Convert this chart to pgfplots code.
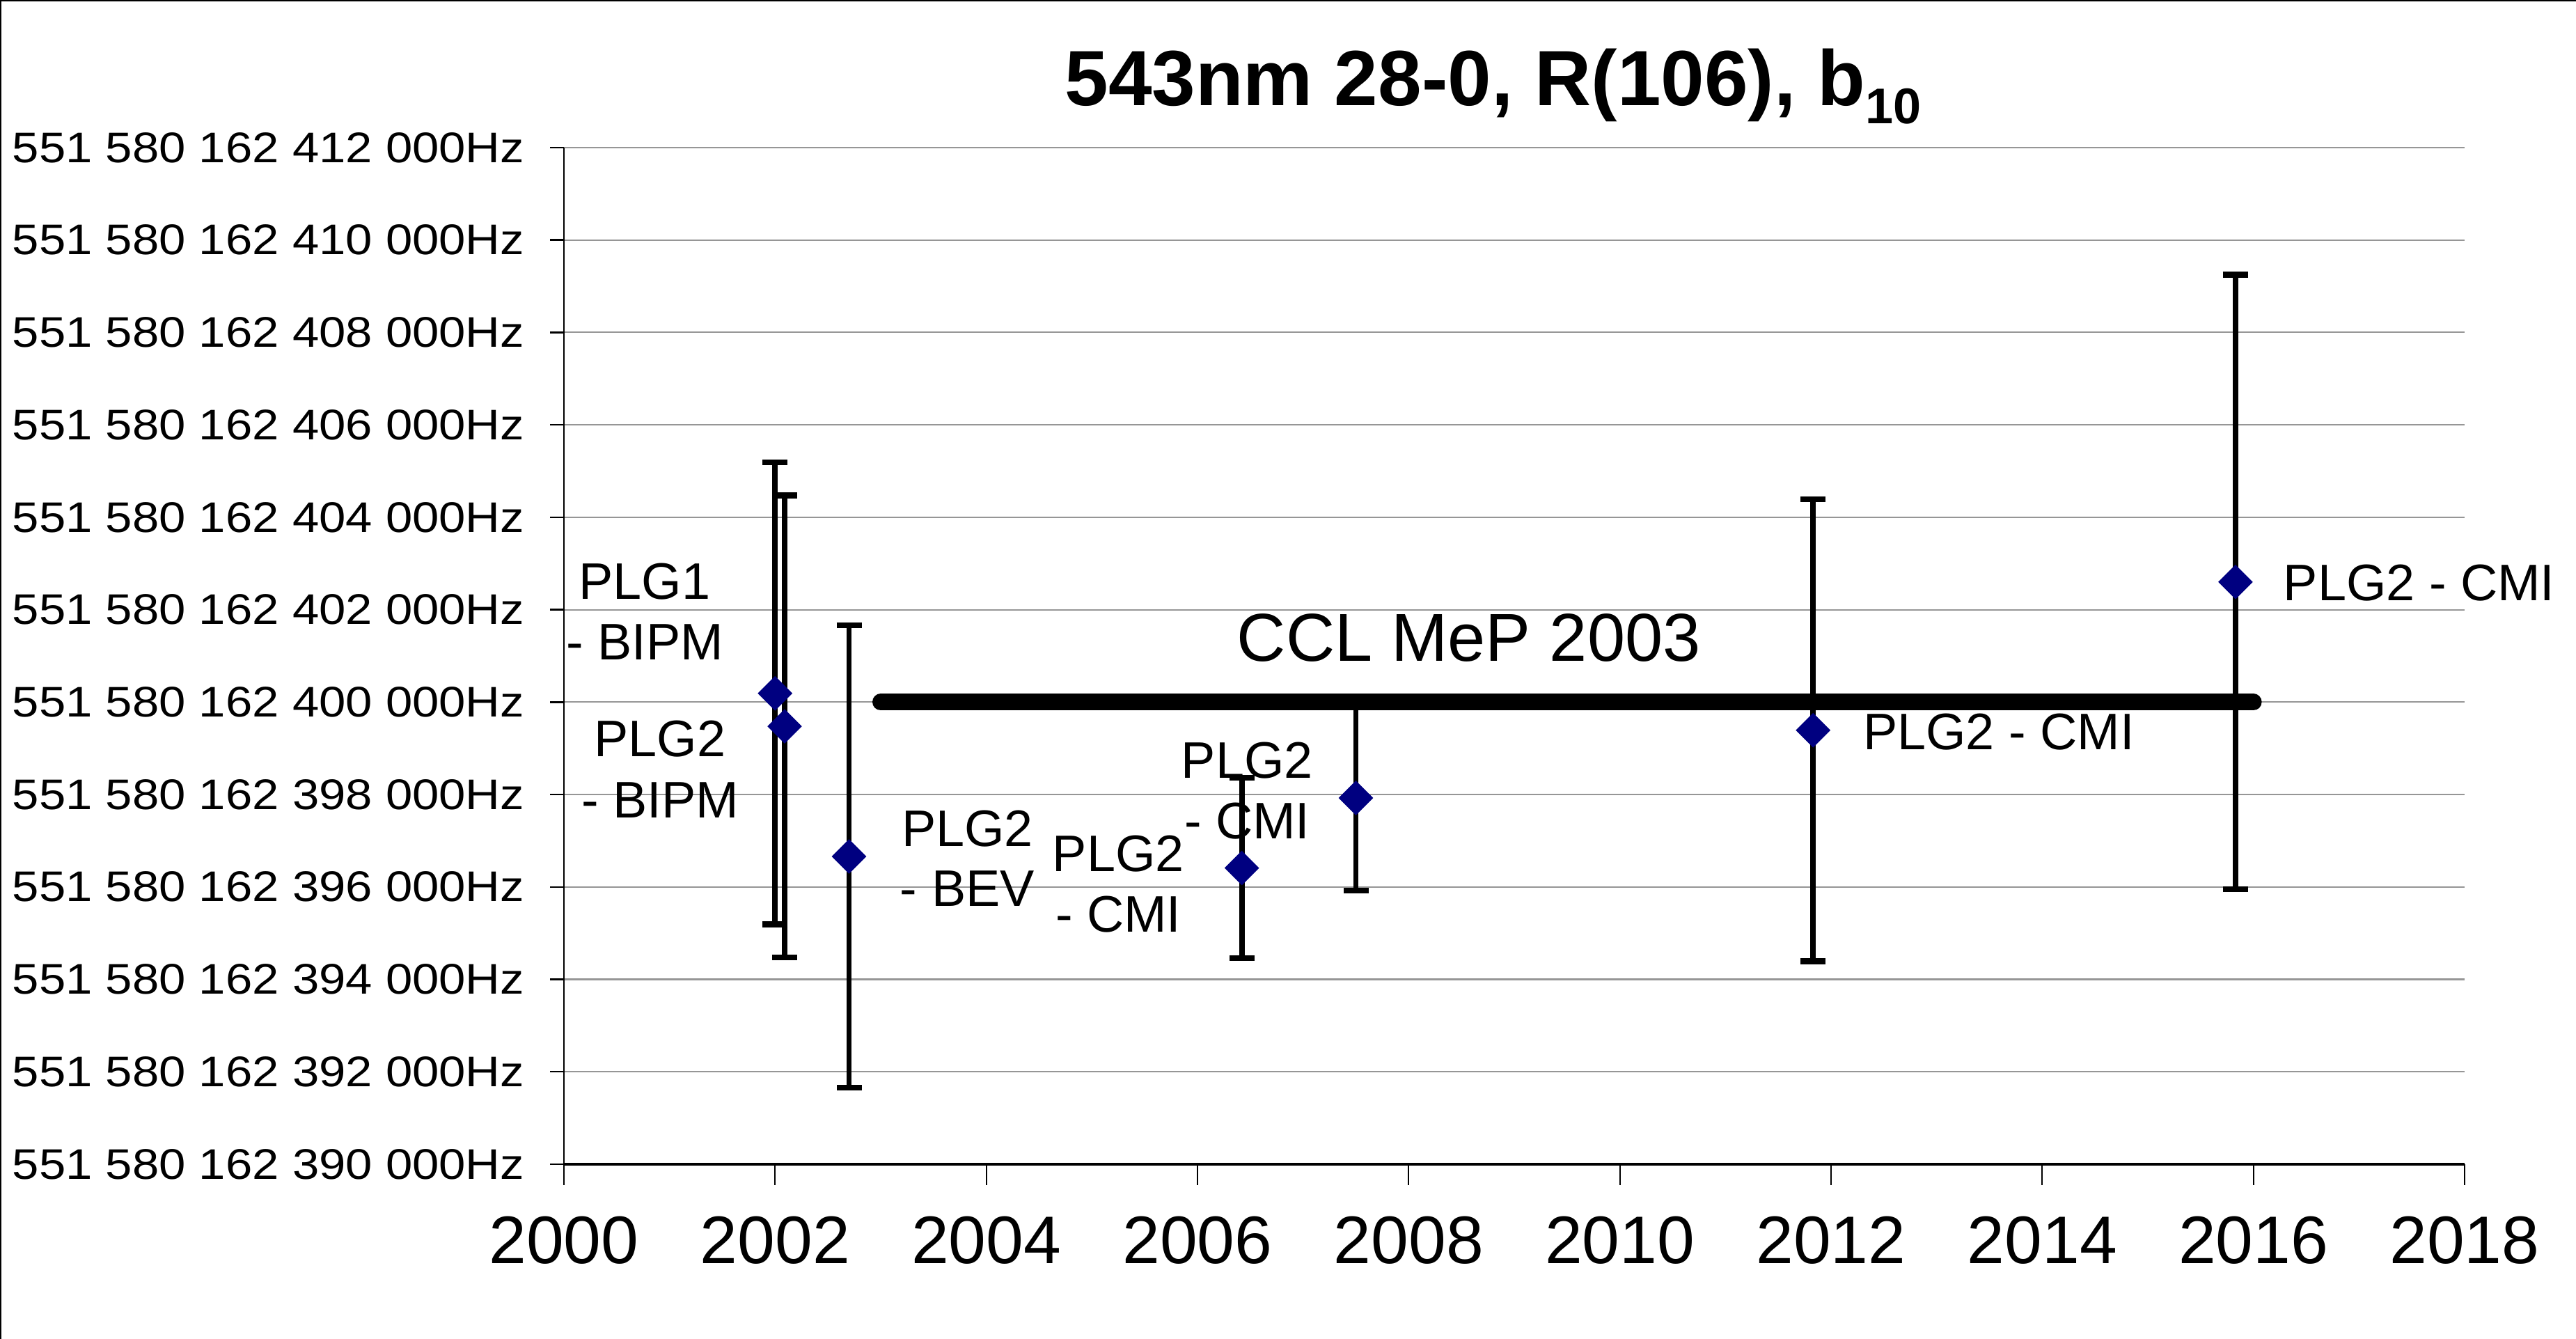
\documentclass[border=0pt]{standalone}
\usepackage{fontspec}
\setmainfont{Liberation Sans}
\newfontfamily\ylabfont[FakeStretch=1.12]{Liberation Sans}
\usepackage{pgfplots}
\pgfplotsset{compat=1.18}
\definecolor{navy}{RGB}{0,0,128}
\definecolor{gridgray}{RGB}{150,150,150}
\newcommand{\lblfont}{\fontsize{21}{24}\selectfont}
\begin{document}
\begin{tikzpicture}
\useasboundingbox (0,0) rectangle (37cm,19.23cm);
\draw[line width=0.04cm] (0,0) -- (0,19.23cm) -- (37cm,19.23cm);
\begin{axis}[
  at={(8.10cm,2.51cm)}, anchor=south west,
  scale only axis, width=27.30cm, height=14.60cm,
  xmin=2000, xmax=2018, ymin=390000, ymax=412000,
  axis x line*=bottom, axis y line*=left,
  xtick pos=bottom, ytick pos=left,
  x axis line style={line width=0.9pt, black, -},
  y axis line style={line width=0.5pt, black, -},
  scaled y ticks=false, scaled x ticks=false,
  xtick={2000,2002,2004,2006,2008,2010,2012,2014,2016,2018},
  xticklabels={2000,2002,2004,2006,2008,2010,2012,2014,2016,2018},
  ytick={390000,392000,394000,396000,398000,400000,402000,404000,406000,408000,410000,412000},
  yticklabels={551 580 162 390 000Hz,551 580 162 392 000Hz,551 580 162 394 000Hz,551 580 162 396 000Hz,551 580 162 398 000Hz,551 580 162 400 000Hz,551 580 162 402 000Hz,551 580 162 404 000Hz,551 580 162 406 000Hz,551 580 162 408 000Hz,551 580 162 410 000Hz,551 580 162 412 000Hz},
  tick align=outside,
  xtick style={line width=0.5pt, black, /pgfplots/major tick length=0.30cm},
  ytick style={line width=0.7pt, black, /pgfplots/major tick length=0.20cm},
  ymajorgrids, grid style={gridgray, line width=0.6pt},
  xticklabel style={font=\fontsize{27.5}{30}\selectfont, anchor=base, inner sep=0pt, yshift=-1.28cm},
  yticklabel style={font=\ylabfont\fontsize{17.5}{20}\selectfont, anchor=east, inner sep=0pt, xshift=-0.41cm},
  clip=false,
]
% CCL MeP 2003 value
\addplot[black, line width=6.8pt, line cap=round] coordinates {(2003,400000) (2016,400000)};
% measurements
\addplot[only marks, mark=square*, mark size=4.8pt,
  mark options={rotate=45, fill=navy, draw=navy},
  error bars/.cd, y dir=both, y explicit,
  error bar style={line width=2.2pt, black},
  error mark options={rotate=90, line width=2.4pt, black, mark size=0.18cm}]
  table[x=x, y=y, y error=e] {
  x        y       e
  2002.00  400190  5000
  2002.09  399476  5000
  2002.70  396660  5000
  2006.42  396410  1950
  2007.50  397925  2000
  2011.83  399390  5000
  2015.83  402600  6650
};
% point labels
\node[anchor=base, font=\lblfont] at (axis cs:2000.765,402222) {PLG1};
\node[anchor=base, font=\lblfont] at (axis cs:2000.765,400911) {- BIPM};
\node[anchor=base, font=\lblfont] at (axis cs:2000.91,398816) {PLG2};
\node[anchor=base, font=\lblfont] at (axis cs:2000.91,397490) {- BIPM};
\node[anchor=base, font=\lblfont] at (axis cs:2003.82,396872) {PLG2};
\node[anchor=base, font=\lblfont] at (axis cs:2003.82,395583) {- BEV};
\node[anchor=base, font=\lblfont] at (axis cs:2005.25,396329) {PLG2};
\node[anchor=base, font=\lblfont] at (axis cs:2005.25,395018) {- CMI};
\node[anchor=base, font=\lblfont] at (axis cs:2006.47,398349) {PLG2};
\node[anchor=base, font=\lblfont] at (axis cs:2006.47,397038) {- CMI};
\node[anchor=base west, inner sep=0pt, font=\lblfont] at (axis cs:2012.30,398967) {PLG2 - CMI};
\node[anchor=base west, inner sep=0pt, font=\lblfont] at (axis cs:2016.28,402192) {PLG2 - CMI};
\node[anchor=base, font=\fontsize{27.7}{30}\selectfont] at (axis cs:2008.57,400881) {CCL MeP 2003};
% title
\node[anchor=base, font=\bfseries\fontsize{32}{36}\selectfont] at (axis cs:2008.80,412906)
  {543nm 28-0, R(106), b\raisebox{-0.23em}{\fontsize{20.5}{22}\selectfont 10}};
\end{axis}
\end{tikzpicture}
\end{document}
